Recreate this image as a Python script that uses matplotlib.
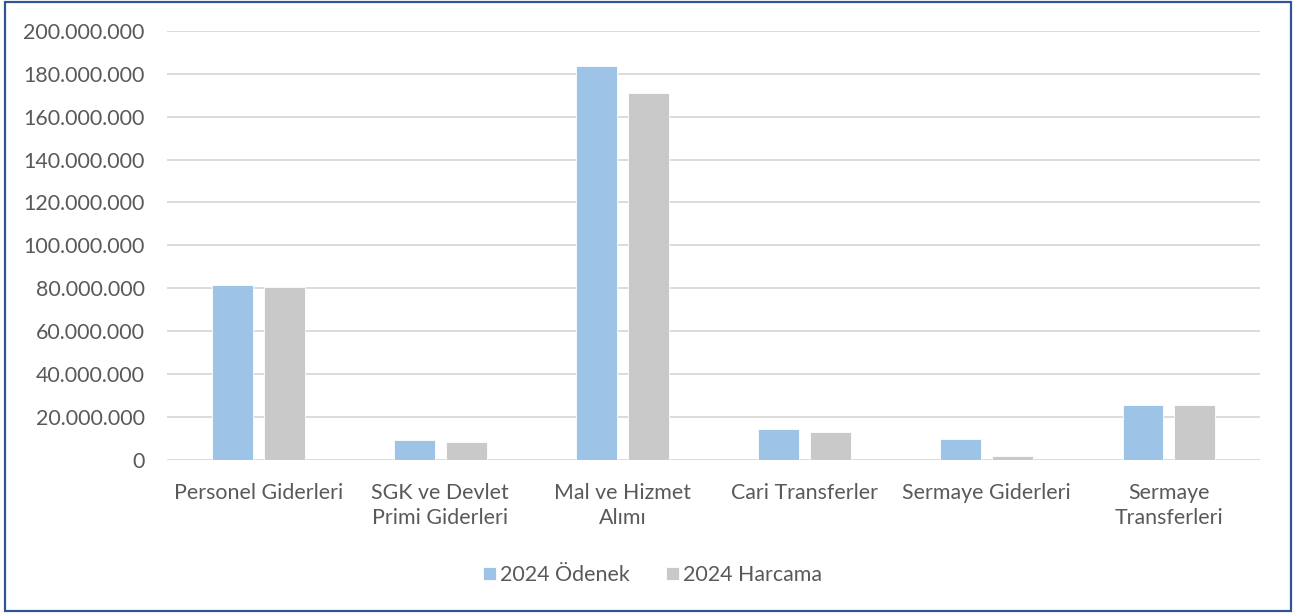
import numpy as np
import matplotlib.pyplot as plt
from matplotlib.patches import Rectangle
from matplotlib.ticker import FuncFormatter

categories = ['Personel Giderleri', 'SGK ve Devlet\nPrimi Giderleri', 'Mal ve Hizmet\nAlımı',
              'Cari Transferler', 'Sermaye Giderleri', 'Sermaye\nTransferleri']
odenek = [81.4e6, 8.9e6, 183.7e6, 14.1e6, 9.4e6, 25.4e6]
harcama = [80.5e6, 8.3e6, 171.1e6, 12.8e6, 1.5e6, 25.4e6]
series_names = ['2024 Ödenek', '2024 Harcama']

plt.rcParams['font.family'] = ['Lato', 'DejaVu Sans']
txt = '#595959'
fs = 15.4

fig = plt.figure(figsize=(12.97, 6.13), dpi=100)
ax = fig.add_axes([0.1288, 0.2504, 0.8427, 0.699])

x = np.arange(len(categories))
w = 0.225
off = 0.1425
ax.bar(x - off, odenek, w, color='#9DC3E6', edgecolor='white', linewidth=0.6, label=series_names[0], zorder=3)
ax.bar(x + off, harcama, w, color='#C9C9C9', edgecolor='white', linewidth=0.6, label=series_names[1], zorder=3)

ax.set_xlim(-0.5, len(categories) - 0.5)
ax.set_ylim(0, 200e6)
ax.set_yticks(np.arange(0, 200e6 + 1, 20e6))
ax.yaxis.set_major_formatter(FuncFormatter(lambda v, p: f'{int(v):,}'.replace(',', '.')))
ax.grid(axis='y', color='#D9D9D9', linewidth=1.3, zorder=0)
for s in ax.spines.values():
    s.set_visible(False)
ax.tick_params(axis='both', length=0, labelsize=fs, labelcolor=txt)
ax.tick_params(axis='y', pad=16)
ax.tick_params(axis='x', pad=17)
ax.set_xticks(x)
ax.set_xticklabels(categories, linespacing=1.3)

ax.legend(loc='center', bbox_to_anchor=(0.503, 0.062), bbox_transform=fig.transFigure, ncol=2,
          frameon=False, fontsize=fs, labelcolor=txt, handlelength=0.6, handleheight=0.6,
          handletextpad=0.2, columnspacing=1.7)

fig.patches.append(Rectangle((0.004, 0.003), 0.991, 0.993, transform=fig.transFigure,
                             fill=False, edgecolor='#2F5597', linewidth=1.6))

fig.savefig('out.png', dpi=100)
